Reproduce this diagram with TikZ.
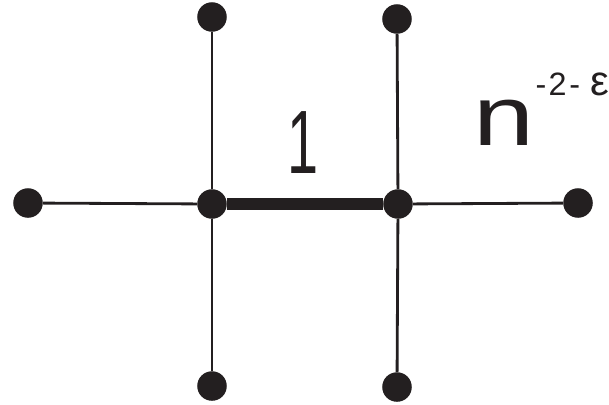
\documentclass[tikz,border=0pt]{standalone}
\usepackage{fontspec}
\setmainfont{Liberation Sans}
\usetikzlibrary{positioning}
\definecolor{inchiostro}{HTML}{231F20}
\tikzset{
  vertice/.style={circle,fill=inchiostro,inner sep=0pt,minimum size=21pt},
  lato/.style={draw=inchiostro,line width=2pt},
  latobold/.style={draw=inchiostro,line width=8.5pt},
}

\begin{document}
\begin{tikzpicture}[x=0.025cm,y=-0.025cm]
\useasboundingbox (0,0) rectangle (609,404);
% Vertici centrali
\node[vertice] (cs) at (212,204) {};
\node[vertice] (cd) at (398,204) {};
% Vertici esterni
\foreach \nome/\x/\y in {sx/28/203, dx/578/203, as/212/17, ad/397/19, bs/212/386, bd/397/387}{
  \node[vertice] (\nome) at (\x,\y) {};
}
% Lati
\foreach \a/\b in {cs/sx, cs/as, cs/bs, cd/dx, cd/ad, cd/bd}{
  \draw[lato] (\a) -- (\b);
}
\draw[latobold] (cs) -- (cd);
% Etichette
\node[anchor=base,inner sep=0pt,text=inchiostro] (peso) at (303,173)
  {\scalebox{0.62}[1]{\fontsize{64}{64}\selectfont 1}};
\node[anchor=base west,inner sep=0pt,text=inchiostro] (fattore) at (473,145)
  {\scalebox{1.3}[1]{\fontsize{60}{60}\selectfont n}%
   \raisebox{35.5pt}{\fontsize{23}{23}\selectfont\kern1pt -\kern1.5pt2\kern2pt-\kern7.5pt\scalebox{1.3}{ε}}};
\end{tikzpicture}
\end{document}
